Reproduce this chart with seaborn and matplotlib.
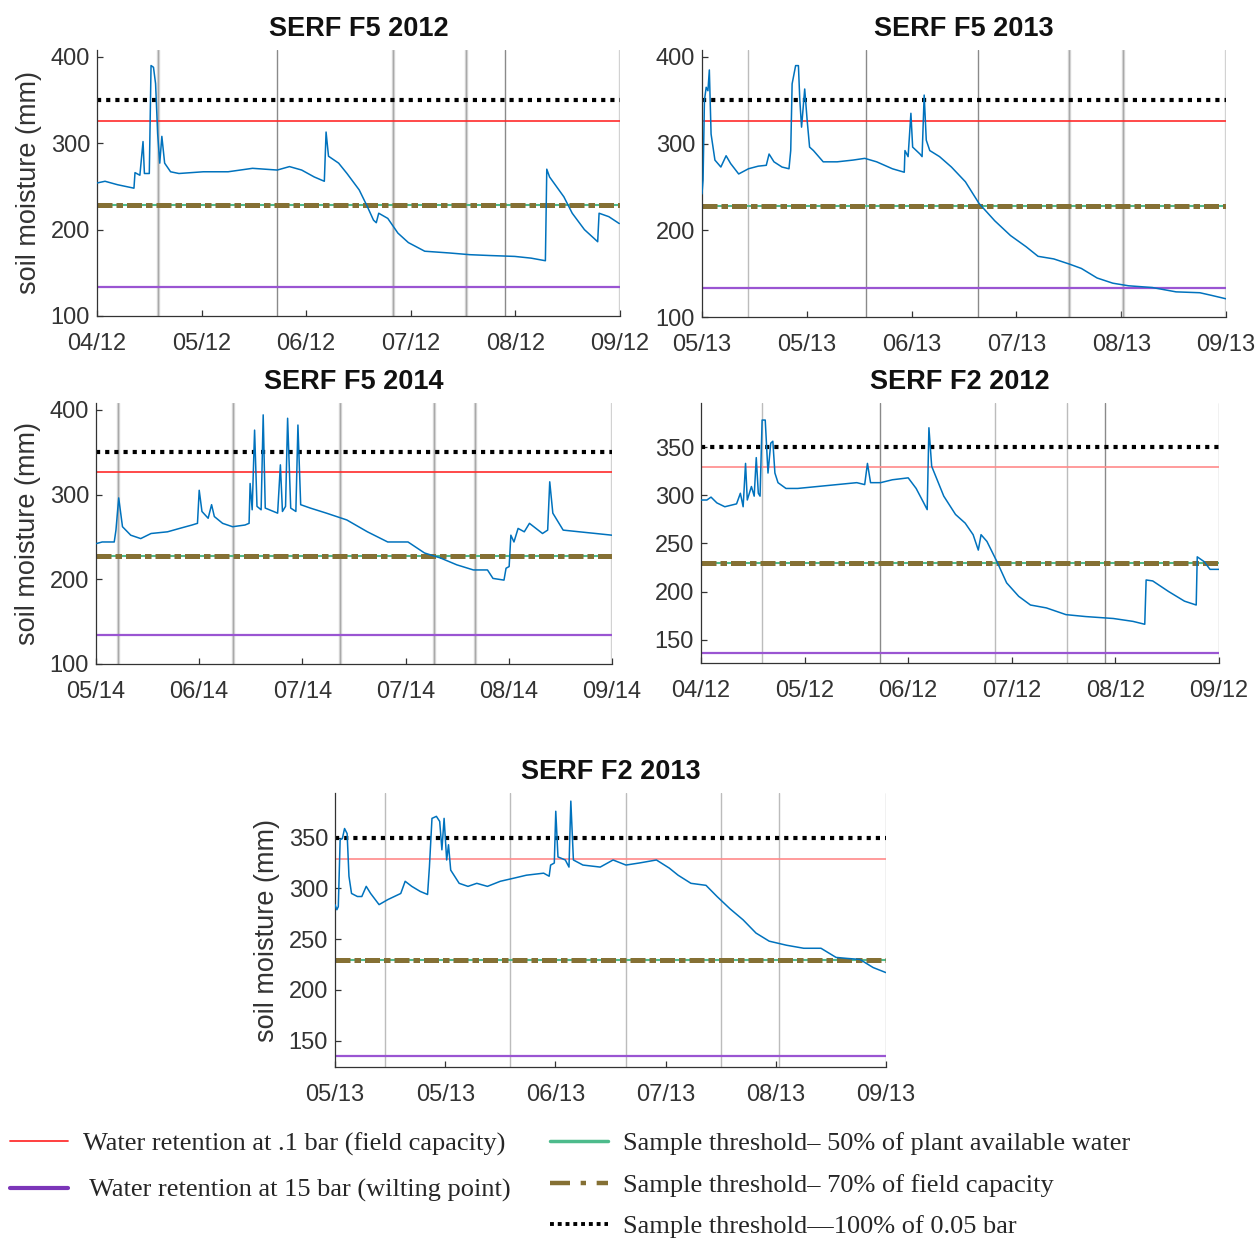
import numpy as np
import pandas as pd
import matplotlib
matplotlib.use("Agg")
import matplotlib.pyplot as plt
import seaborn as sns
from matplotlib.lines import Line2D

# ---------------- data (days since first tick, soil moisture mm) ----------------
titles = ["SERF F5 2012", "SERF F5 2013", "SERF F5 2014", "SERF F2 2012", "SERF F2 2013"]

tick_days = [0, 30, 60, 90, 120, 150]
xlabels_2012 = ["04/12", "05/12", "06/12", "07/12", "08/12", "09/12"]
xlabels_2013 = ["05/13", "05/13", "06/13", "07/13", "08/13", "09/13"]
xlabels_2014 = ["05/14", "06/14", "07/14", "07/14", "08/14", "09/14"]

yticks_f5 = [100, 200, 300, 400]
yticks_f2 = [150, 200, 250, 300, 350]

x1 = [0, 2.3, 5.9, 10.6, 10.9, 12.3, 13.2, 13.6, 15, 15.5, 16.2, 16.8, 17.4, 18, 18.6, 19.4, 21.1, 23.5, 30.5, 37.6,
      44.6, 51.7, 55.2, 58.7, 62.3, 65.2, 65.7, 66.4, 69.3, 71.7, 75.2, 77.5, 79.3, 80.1, 80.8, 83.4, 86.3, 89.3, 94, 101,
      106.9, 112.8, 119.8, 124.5, 128.6, 129, 129.8, 133.9, 136.3, 139.8, 143.6, 144, 146.8, 149.8]
y1 = [254, 256, 252, 248, 266, 263, 302, 265, 265, 390, 388, 369, 311, 277, 308, 277, 267, 265, 267, 267,
      271, 269, 273, 269, 261, 256, 313, 285, 277, 265, 246, 227, 211, 208, 219, 213, 196, 185, 175, 173,
      171, 170, 169, 167, 164, 270, 261, 238, 219, 200, 186, 219, 215, 207]

x2 = [0, 0.3, 0.7, 1.2, 1.7, 2.1, 2.6, 3.7, 5.4, 6.9, 8.2, 10.5, 13.3, 16.1, 18.4, 19.2, 20.6, 22.9, 24.9, 25.4,
      25.8, 26.8, 27.6, 28, 28.5, 29.4, 30.1, 30.8, 31.9, 34.7, 38.7, 43.2, 46.6, 50, 54.5, 57.9, 58.1, 59, 59.8, 60.3,
      62.4, 63, 63.6, 64.2, 65.2, 68, 71.4, 75.4, 79.3, 83.8, 88.3, 92.8, 96.2, 100.7, 105.2, 108.6, 113.1, 117.6, 122.1, 128.9,
      135.7, 142.5, 145.8, 150]
y2 = [242, 258, 350, 365, 361, 385, 311, 281, 273, 286, 277, 265, 271, 274, 275, 288, 279, 273, 271, 292,
      369, 390, 390, 350, 319, 363, 327, 296, 292, 279, 279, 281, 283, 279, 271, 267, 292, 285, 335, 296,
      288, 285, 356, 304, 292, 285, 273, 256, 231, 211, 194, 181, 170, 167, 161, 156, 145, 139, 136, 134,
      129, 128, 125, 121]

x3 = [0, 1.8, 5.3, 5.8, 6.6, 7.7, 10.1, 13, 16, 20.8, 24.3, 27.9, 29.5, 30, 30.8, 32.6, 33.6, 34.4, 36.8, 39.7,
      43.3, 44.5, 44.8, 45.4, 46.1, 46.8, 48, 48.6, 49.2, 52.8, 53.6, 54.2, 55.1, 55.7, 56.6, 58.1, 58.7, 59.5, 62.3, 67,
      72.9, 78.9, 84.8, 90.7, 95.5, 100.2, 104.9, 109.7, 113.8, 115.4, 118.6, 119.2, 120.1, 120.6, 121.5, 122.7, 124.5, 126, 129.8, 131.3,
      131.9, 132.8, 135.8, 140.5, 145.3, 150]
y3 = [242, 244, 244, 258, 296, 262, 252, 248, 254, 256, 260, 264, 266, 305, 280, 272, 288, 274, 266, 262,
      264, 266, 313, 282, 376, 286, 282, 394, 284, 278, 335, 280, 286, 390, 284, 280, 382, 288, 284, 278,
      270, 256, 244, 244, 231, 225, 217, 211, 211, 201, 199, 213, 215, 252, 244, 260, 256, 266, 254, 258,
      315, 278, 258, 256, 254, 252]

x4 = [0, 1.7, 2.9, 4.6, 6.9, 10.3, 11.4, 12.2, 12.9, 13.4, 14.6, 15.4, 16, 16.6, 17.1, 17.7, 18.6, 19.4, 20.2, 20.8,
      21.4, 22.3, 24.6, 28, 33.7, 39.4, 45.1, 47.4, 48.2, 49.1, 52, 55.4, 60, 62.3, 64.5, 65.5, 66, 66.8, 70.3, 73.7,
      76.5, 78.8, 80.3, 81.1, 82.8, 85.7, 88.5, 92, 95.4, 100, 105.7, 111.4, 119.4, 125.1, 128.5, 128.9, 130.8, 135.4, 140, 143.4,
      143.7, 145.7, 147.4, 150]
y4 = [295, 295, 298, 292, 288, 291, 302, 288, 333, 295, 309, 299, 339, 302, 299, 378, 378, 323, 354, 356,
      323, 313, 307, 307, 309, 311, 313, 311, 333, 313, 313, 316, 318, 307, 292, 285, 370, 330, 299, 280,
      271, 259, 243, 259, 252, 231, 209, 195, 186, 183, 176, 174, 172, 169, 166, 212, 211, 200, 190, 186,
      236, 231, 223, 223]

x5 = [0, 0.5, 0.9, 1.4, 2, 2.6, 3.3, 3.8, 4.5, 6.1, 7.3, 8.5, 9.7, 12, 14.4, 17.9, 19.1, 20.9, 23.2, 25.2,
      25.7, 26.4, 27.6, 28.5, 29.1, 29.7, 30.4, 30.9, 31.5, 33.8, 36.2, 38.6, 41.5, 45, 48.6, 52.1, 56.8, 58.3, 58.7, 59.7,
      60.1, 60.7, 62.7, 63.7, 64.2, 64.9, 67.5, 72.2, 75.7, 79.2, 82.8, 87.5, 91, 93.4, 96.9, 101, 104, 107.5, 111.1, 114.6,
      118.2, 122.9, 127.6, 132.3, 136.4, 139.4, 142.9, 146.5, 150]
y5 = [284, 279, 282, 348, 349, 359, 354, 312, 295, 292, 292, 302, 295, 284, 289, 295, 307, 302, 297, 294,
      321, 369, 371, 366, 338, 369, 328, 343, 318, 305, 302, 305, 302, 307, 310, 313, 315, 312, 323, 325,
      376, 331, 328, 321, 386, 328, 323, 321, 328, 323, 325, 328, 320, 313, 305, 303, 292, 280, 269, 256,
      248, 244, 241, 241, 232, 231, 230, 222, 217]

# sampling-date vertical lines (days)
vlines1 = [17.4, 51.7, 84.9, 105.7, 116.9, 150]
vlines2 = [13.3, 46.9, 78.9, 105, 120.5, 150]
vlines3 = [6.3, 39.7, 70.9, 98.2, 110.3, 150]
vlines4 = [17.7, 51.8, 85.1, 106, 116.9, 150]
vlines5 = [13.6, 47.6, 79.2, 105.2, 120.9, 150]

# threshold levels per panel (mm)
field_capacity = [326, 326, 326, 329, 329]
wilting_point = [134, 134, 134, 136, 135]
paw50 = [228, 228, 228, 230, 229]
fc70 = [228, 228, 228, 230, 229]
bar005 = [350, 350, 350, 350, 350]

# ---------------- style / layout ----------------
sns.set_theme(style="white")
plt.rcParams["font.family"] = ["Liberation Sans", "DejaVu Sans"]

W, H = 1258, 1241
fig = plt.figure(figsize=(W / 100, H / 100), dpi=100)

# (left, right, top, bottom) in pixels
boxes = [(97, 620, 50, 316), (702, 1226, 50, 317), (96, 612, 403, 664),
         (701, 1219, 403, 663), (335, 886, 793, 1067)]
ylims = [(100, 408), (100, 408), (100, 408), (125.8, 395.7), (124, 394)]
xs = [x1, x2, x3, x4, x5]
ys = [y1, y2, y3, y4, y5]
vls = [vlines1, vlines2, vlines3, vlines4, vlines5]
vstyles = [["w", "n", "w", "w", "n", "w"],
           ["l", "n", "n", "w", "w", "w"],
           ["w", "w", "w", "w", "w", "w"],
           ["l", "n", "l", "l", "n", "l"],
           ["l", "l", "l", "l", "l", "l"]]
xlabs = [xlabels_2012, xlabels_2013, xlabels_2014, xlabels_2012, xlabels_2013]
ytks = [yticks_f5, yticks_f5, yticks_f5, yticks_f2, yticks_f2]
show_ylabel = [True, False, True, False, True]
red_cols = ["#ff2a2a", "#ff2a2a", "#ff2a2a", "#ff8a8a", "#ff8a8a"]

axis_col = "#333333"
olive = "#857034"
green = "#4dbb8c"
purple = "#9a55d2"
blue = "#0072BD"

for i in range(5):
    l, r, t, b = boxes[i]
    ax = fig.add_axes([l / W, 1 - b / H, (r - l) / W, (b - t) / H])
    ax.set_facecolor("white")
    for d, s in zip(vls[i], vstyles[i]):
        if s == "w":
            ax.axvline(d, color="#d2d2d2", lw=2.4, zorder=1)
            ax.axvline(d, color="#a8a8a8", lw=0.7, zorder=1)
        elif s == "n":
            ax.axvline(d, color="#8a8a8a", lw=1.0, zorder=1)
        else:
            ax.axvline(d, color="#bcbcbc", lw=1.0, zorder=1)
    ax.axhline(wilting_point[i], color=purple, lw=1.6, zorder=2)
    ax.axhline(field_capacity[i], color=red_cols[i], lw=1.2, zorder=2)
    ax.axhline(paw50[i], color=green, lw=1.5, zorder=2)
    ax.axhline(fc70[i], color=olive, lw=3.6, ls=(0, (3.0, 0.8, 1.3, 0.8)), zorder=2.1)
    ax.axhline(bar005[i], color="black", lw=3.0, ls=(0, (1, 1.2)), zorder=2.2)

    df = pd.DataFrame({"day": xs[i], "sm": ys[i]})
    sns.lineplot(data=df, x="day", y="sm", ax=ax, color=blue, lw=1.1,
                 estimator=None, sort=False, zorder=3)

    ax.set_xlim(0, 150)
    ax.set_ylim(*ylims[i])
    ax.set_xticks(tick_days)
    ax.set_xticklabels(xlabs[i])
    ax.set_yticks(ytks[i])
    ax.set_yticklabels([str(v) for v in ytks[i]])
    ax.set_xlabel("")
    ax.set_ylabel("soil moisture (mm)" if show_ylabel[i] else "", fontsize=19.5,
                  color=axis_col, labelpad=6)
    ax.set_title(titles[i], fontsize=19.5, fontweight="bold", pad=10, color="#111111")
    for sp in ["top", "right"]:
        ax.spines[sp].set_visible(False)
    for sp in ["left", "bottom"]:
        ax.spines[sp].set_color(axis_col)
        ax.spines[sp].set_linewidth(0.9)
    ax.tick_params(axis="both", direction="in", length=4, width=0.9, color=axis_col,
                   labelcolor=axis_col, labelsize=17)
    ax.tick_params(axis="x", pad=12, bottom=True)
    ax.tick_params(axis="y", pad=5, left=True)
    ax.grid(False)

# ---------------- legend ----------------
serif = {"family": "Liberation Serif", "size": 19}
h_left = [Line2D([], [], color="#ff3030", lw=1.3),
          Line2D([], [], color="#7b35b8", lw=3.0)]
lab_left = ["Water retention at .1 bar (field capacity)",
            " Water retention at 15 bar (wilting point)"]
h_right = [Line2D([], [], color=green, lw=2.5),
           Line2D([], [], color=olive, lw=3.2, ls=(0, (4.5, 2.4, 1.2, 2.4))),
           Line2D([], [], color="black", lw=2.8, ls=(0, (1, 1)))]
lab_right = ["Sample threshold\u2013 50% of plant available water",
             "Sample threshold\u2013 70% of field capacity",
             "Sample threshold\u2014100% of 0.05 bar"]

fig.legend(h_left, lab_left, loc="upper left", bbox_to_anchor=(10 / W, 1 - 1132 / H),
           frameon=False, prop=serif, handlelength=2.2, handletextpad=0.55,
           labelspacing=0.85, borderpad=0, borderaxespad=0)
fig.legend(h_right, lab_right, loc="upper left", bbox_to_anchor=(550 / W, 1 - 1132 / H),
           frameon=False, prop=serif, handlelength=2.2, handletextpad=0.55,
           labelspacing=0.68, borderpad=0, borderaxespad=0)

fig.savefig("out.png", dpi=100, facecolor="white")
